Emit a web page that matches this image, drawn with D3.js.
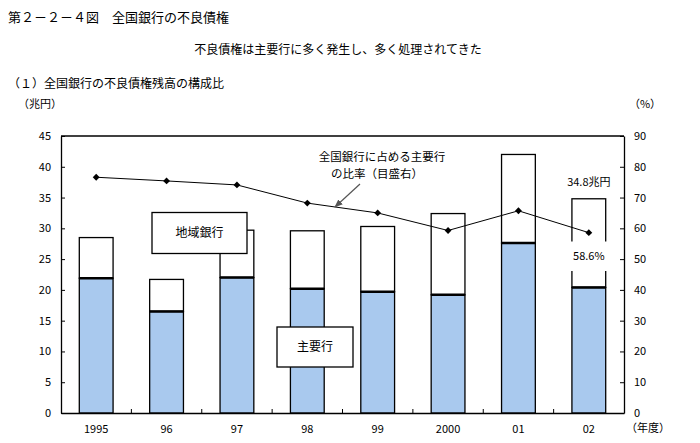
<!DOCTYPE html>
<html><head><meta charset="utf-8">
<script src="https://cdn.jsdelivr.net/npm/d3@7"></script>
<style>
body{margin:0;background:#fff;}
text{font-family:"Noto Sans CJK JP","Noto Sans",sans-serif;fill:#000;}
</style></head>
<body>
<svg id="chart" width="700" height="443"></svg>
<script>
const categories = ["1995","96","97","98","99","2000","01","02"];
const majorBanks = [21.9, 16.5, 22.0, 20.2, 19.7, 19.2, 27.6, 20.4];
const totalBad = [28.5, 21.7, 29.7, 29.6, 30.3, 32.4, 42.0, 34.8];
const majorShare = [76.6, 75.4, 74.1, 68.2, 65.0, 59.3, 65.7, 58.6];
const leftTicks = [0,5,10,15,20,25,30,35,40,45];
const rightTicks = [0,10,20,30,40,50,60,70,80,90];

const svg = d3.select("#chart");
const L = 61, R = 624, T = 136, B = 413;
const x = d3.scaleBand().domain(categories).range([L, R]).paddingInner(0.52).paddingOuter(0.26);
const y = d3.scaleLinear().domain([0,45]).range([B, T]);
const y2 = d3.scaleLinear().domain([0,90]).range([B, T]);

// titles
svg.append("text").attr("x",8).attr("y",22).attr("font-size",13).text("第２－２－４図　全国銀行の不良債権");
svg.append("text").attr("x",338).attr("y",54).attr("font-size",12).attr("text-anchor","middle").text("不良債権は主要行に多く発生し、多く処理されてきた");
svg.append("text").attr("x",8).attr("y",88).attr("font-size",12).text("（１）全国銀行の不良債権残高の構成比");
svg.append("text").attr("x",40).attr("y",108).attr("font-size",11).attr("text-anchor","middle").text("（兆円）");
svg.append("text").attr("x",645).attr("y",108).attr("font-size",11).attr("text-anchor","middle").text("（%）");
svg.append("text").attr("x",648).attr("y",432).attr("font-size",11).attr("text-anchor","middle").text("（年度）");

// bars
const g = svg.append("g");
categories.forEach((c,i)=>{
  g.append("rect").attr("x",x(c)).attr("y",y(totalBad[i])).attr("width",x.bandwidth()).attr("height",y(majorBanks[i])-y(totalBad[i]))
    .attr("fill","#fff").attr("stroke","#000").attr("stroke-width",1.3);
  g.append("rect").attr("x",x(c)).attr("y",y(majorBanks[i])).attr("width",x.bandwidth()).attr("height",B-y(majorBanks[i]))
    .attr("fill","#a9c9ee").attr("stroke","#000").attr("stroke-width",1.3);
  g.append("line").attr("x1",x(c)).attr("x2",x(c)+x.bandwidth()).attr("y1",y(majorBanks[i])).attr("y2",y(majorBanks[i]))
    .attr("stroke","#000").attr("stroke-width",2.5);
});

// frame & axes
svg.append("line").attr("x1",L).attr("x2",R).attr("y1",T).attr("y2",T).attr("stroke","#000").attr("stroke-width",1.3);
const axL = svg.append("g").attr("transform",`translate(${L},0)`)
  .call(d3.axisLeft(y).tickValues(leftTicks).tickSizeInner(-4).tickSizeOuter(0).tickPadding(10));
const axR = svg.append("g").attr("transform",`translate(${R},0)`)
  .call(d3.axisRight(y2).tickValues(rightTicks).tickSizeInner(-4).tickSizeOuter(0).tickPadding(10));
const axB = svg.append("g").attr("transform",`translate(0,${B})`)
  .call(d3.axisBottom(x).tickSize(0).tickPadding(12));
[axL,axR,axB].forEach(a=>{
  a.select(".domain").attr("stroke","#000").attr("stroke-width",1.3);
  a.selectAll(".tick line").attr("stroke","#000");
  a.selectAll("text").attr("font-size",11).attr("font-family","\"Noto Sans CJK JP\",sans-serif").attr("fill","#000");
});
// x-axis category separators
const step = x.step();
for(let i=1;i<categories.length;i++){
  const xx = L + i*step;
  svg.append("line").attr("x1",xx).attr("x2",xx).attr("y1",B).attr("y2",B-4).attr("stroke","#000");
}

// labels boxes
function labelBox(x0,y0,w,h,txt){
  svg.append("rect").attr("x",x0).attr("y",y0).attr("width",w).attr("height",h).attr("fill","#fff").attr("stroke","#000").attr("stroke-width",1.3);
  svg.append("text").attr("x",x0+w/2).attr("y",y0+h/2+4).attr("font-size",12).attr("text-anchor","middle").text(txt);
}
labelBox(152,212.5,95,41,"地域銀行");
labelBox(277,327,76,40,"主要行");

// 2002 annotation
const c02 = categories[7], i02 = 7;
svg.append("rect").attr("x",x(c02)-5).attr("y",241.5).attr("width",x.bandwidth()+10).attr("height",29.5).attr("fill","#fff");
svg.append("text").attr("x",x(c02)+x.bandwidth()/2).attr("y",260).attr("font-size",11).attr("text-anchor","middle").text(majorShare[i02].toFixed(1)+"%");
svg.append("text").attr("x",x(c02)+x.bandwidth()/2).attr("y",186).attr("font-size",11).attr("text-anchor","middle").text(totalBad[i02].toFixed(1)+"兆円");

// share line
const line = d3.line().x((d,i)=>x(categories[i])+x.bandwidth()/2).y(d=>y2(d));
svg.append("path").datum(majorShare).attr("d",line).attr("fill","none").attr("stroke","#000").attr("stroke-width",1);
svg.selectAll(".mk").data(majorShare).enter().append("path")
  .attr("transform",(d,i)=>`translate(${x(categories[i])+x.bandwidth()/2},${y2(d)})`)
  .attr("d",d3.symbol().type(d3.symbolDiamond2).size(30)).attr("fill","#000");

// line annotation
svg.append("text").attr("x",382).attr("y",161).attr("font-size",11.5).attr("text-anchor","middle").text("全国銀行に占める主要行");
svg.append("text").attr("x",377).attr("y",178).attr("font-size",11.5).attr("text-anchor","middle").text("の比率（目盛右）");
svg.append("defs").append("marker").attr("id","arr").attr("viewBox","0 0 10 10").attr("refX",9).attr("refY",5)
  .attr("markerWidth",7).attr("markerHeight",7).attr("orient","auto")
  .append("path").attr("d","M0,1 L10,5 L0,9 Z").attr("fill","#555");
svg.append("line").attr("x1",360).attr("y1",184).attr("x2",335).attr("y2",207).attr("stroke","#555").attr("stroke-width",1.2).attr("marker-end","url(#arr)");
</script>
</body></html>
